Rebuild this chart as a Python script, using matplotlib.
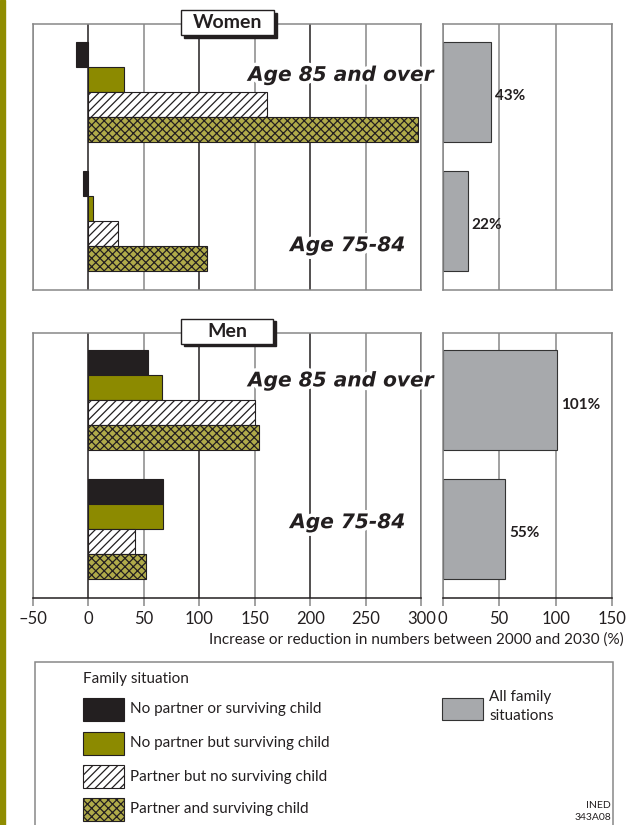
import matplotlib
matplotlib.use("Agg")
from matplotlib import pyplot as plt
from matplotlib.patches import Rectangle
import matplotlib.patheffects as pe

plt.rcParams['font.family'] = ['Lato', 'DejaVu Sans']
plt.rcParams['hatch.linewidth'] = 0.9

# data (% change 2000-2030)
categories = ['No partner or surviving child', 'No partner but surviving child',
              'Partner but no surviving child', 'Partner and surviving child']
age_groups = ['Age 85 and over', 'Age 75-84']
women_85 = [-11, 32, 161, 297]
women_75 = [-5, 4, 27, 107]
men_85 = [54, 66, 150, 154]
men_75 = [67, 67, 42, 52]
women_all = [43, 22]
men_all = [101, 55]

left_ticks = [-50, 0, 50, 100, 150, 200, 250, 300]
right_ticks = [0, 50, 100, 150]

colors = ['#231f20', '#8c8a00', 'white', '#b0ab4a']
hatches = [None, None, '////', 'xxxx']
gray = '#a7a9ac'

W, H = 626, 825
fig = plt.figure(figsize=(W / 100, H / 100), dpi=100)


def fx(px):
    return px / W


def fy(py):
    return 1 - py / H


group_start = [0.7, 5.85]
ymax = 10.62


def draw_left(ax, groups, bottom):
    for xv in left_ticks:
        c = '#231f20' if xv % 100 == 0 else '#888888'
        ax.axvline(xv, color=c, lw=1.1, zorder=0)
    for g, vals in enumerate(groups):
        for i, v in enumerate(vals):
            ax.barh(group_start[g] + i + 0.5, v, height=1, color=colors[i],
                    hatch=hatches[i], edgecolor='#231f20', lw=0.8, zorder=2)
    ax.set_xlim(-50, 300)
    ax.set_ylim(ymax, 0)
    ax.set_yticks([])
    for s in ax.spines.values():
        s.set_color('#888888')
        s.set_linewidth(1.1)
    if bottom:
        ax.spines['bottom'].set_color('#231f20')
        ax.set_xticks(left_ticks)
        ax.set_xticklabels(['–50'] + [str(t) for t in left_ticks[1:]])
        ax.tick_params(axis='x', length=6, width=1.1, color='#888888',
                       labelsize=12, pad=3, colors='#231f20')
    else:
        ax.set_xticks([])


def draw_right(ax, vals, bottom):
    for xv in right_ticks:
        ax.axvline(xv, color='#888888', lw=1.1, zorder=0)
    for g, v in enumerate(vals):
        ax.barh(group_start[g] + 2, v, height=4, color=gray,
                edgecolor='#333333', lw=0.8, zorder=2)
        ax.annotate(f'{v}%', (v, group_start[g] + 2), xytext=(3, -3),
                    textcoords='offset points', va='center', ha='left',
                    fontsize=11, fontweight='bold', color='#231f20', zorder=3)
    ax.set_xlim(0, 150)
    ax.set_ylim(ymax, 0)
    ax.set_yticks([])
    for s in ax.spines.values():
        s.set_color('#888888')
        s.set_linewidth(1.1)
    if bottom:
        ax.spines['bottom'].set_color('#231f20')
        ax.set_xticks(right_ticks)
        ax.tick_params(axis='x', length=6, width=1.1, color='#888888',
                       labelsize=12, pad=3, colors='#231f20')
    else:
        ax.set_xticks([])


left_w = (421.3 - 32.9) / W
right_w = (612.3 - 442.7) / W
ax_w = fig.add_axes([fx(32.9), fy(290), left_w, 266 / H])
ax_wr = fig.add_axes([fx(442.7), fy(290), right_w, 266 / H])
ax_m = fig.add_axes([fx(32.9), fy(598), left_w, 265 / H])
ax_mr = fig.add_axes([fx(442.7), fy(598), right_w, 265 / H])

draw_left(ax_w, [women_85, women_75], False)
draw_right(ax_wr, women_all, False)
draw_left(ax_m, [men_85, men_75], True)
draw_right(ax_mr, men_all, True)

stroke = [pe.withStroke(linewidth=5, foreground='white')]
label_kw = dict(ha='right', va='center', fontsize=14.5, fontweight='bold',
                style='oblique', family='DejaVu Sans', color='#231f20',
                zorder=5, clip_on=False, path_effects=stroke)
ax_w.text(311, 2.05, age_groups[0], **label_kw)
ax_w.text(285.5, 8.85, age_groups[1], **label_kw)
ax_m.text(311, 1.92, age_groups[0], **label_kw)
ax_m.text(285.5, 7.6, age_groups[1], **label_kw)


# titles in boxes with a drop shadow
def title_box(label, x0, y0, x1, y1):
    fig.add_artist(Rectangle((fx(x0 + 2.5), fy(y1 + 2.5)), fx(x1 - x0), (y1 - y0) / H,
                             transform=fig.transFigure, color='#231f20', zorder=10))
    fig.add_artist(Rectangle((fx(x0), fy(y1)), fx(x1 - x0), (y1 - y0) / H,
                             transform=fig.transFigure, facecolor='white',
                             edgecolor='#231f20', lw=1, zorder=11))
    fig.text(fx((x0 + x1) / 2), fy((y0 + y1) / 2), label, ha='center', va='center',
             fontsize=14, fontweight='bold', color='#231f20', zorder=12)


title_box('Women', 181, 10, 274, 35)
title_box('Men', 181, 319, 273, 344)

fig.text(fx(624), fy(640), 'Increase or reduction in numbers between 2000 and 2030 (%)',
         ha='right', va='center', fontsize=11, color='#231f20')

# olive stripe on the left edge
fig.add_artist(Rectangle((0, 0), fx(5), 1, transform=fig.transFigure,
                         color='#8f8c00', zorder=1))

# legend box
fig.add_artist(Rectangle((fx(35), fy(830)), fx(612.7 - 35), (830 - 662) / H,
                         transform=fig.transFigure, facecolor='none',
                         edgecolor='#888888', lw=1.1, zorder=1))
fig.text(fx(83), fy(679), 'Family situation', ha='left', va='center',
         fontsize=11, color='#231f20')
row_tops = [697.7, 731.5, 765, 798]
for i, cat in enumerate(categories):
    top = row_tops[i]
    fig.add_artist(Rectangle((fx(83), fy(top + 23)), fx(41), 23 / H,
                             transform=fig.transFigure, facecolor=colors[i],
                             hatch=hatches[i], edgecolor='#231f20', lw=0.8, zorder=2))
    fig.text(fx(130), fy(top + 11.5), cat, ha='left', va='center',
             fontsize=11, color='#231f20')
fig.add_artist(Rectangle((fx(441.7), fy(720)), fx(41), 22.3 / H,
                         transform=fig.transFigure, facecolor=gray,
                         edgecolor='#333333', lw=0.8, zorder=2))
fig.text(fx(489), fy(697), 'All family', ha='left', va='center',
         fontsize=11, color='#231f20')
fig.text(fx(489), fy(716), 'situations', ha='left', va='center',
         fontsize=11, color='#231f20')
fig.text(fx(611), fy(805), 'INED', ha='right', va='center', fontsize=7.5,
         color='#231f20')
fig.text(fx(611), fy(817), '343A08', ha='right', va='center', fontsize=7.5,
         color='#231f20')

fig.savefig('out.png', dpi=100)
